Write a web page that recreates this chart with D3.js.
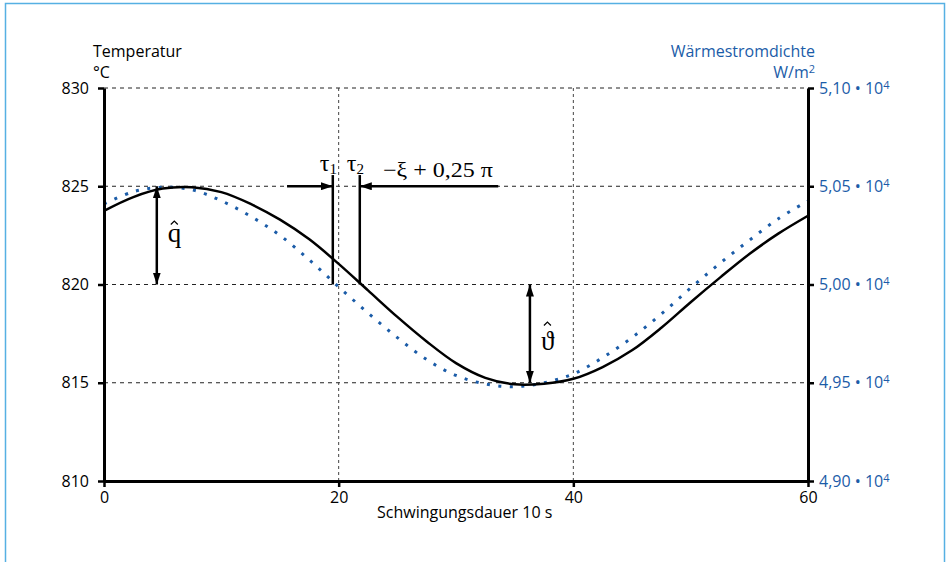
<!DOCTYPE html>
<html>
<head>
<meta charset="utf-8">
<script src="https://cdn.jsdelivr.net/npm/d3@7"></script>
<style>
  body { margin: 0; background: #fff; }
  svg { display: block; }
  text { font-family: 'Open Sans', sans-serif; }
  .math { font-family: 'Liberation Serif', 'DejaVu Serif', serif; }
</style>
</head>
<body>
<svg id="chart"></svg>
<script>
const width = 947
const height = 562

// time axis (units of 10 s)
const times = [0, 2.5, 5, 7.5, 10, 12.5, 15, 17.5, 20, 22.5, 25, 27.5, 30,
               32.5, 35, 37.5, 40, 42.5, 45, 47.5, 50, 52.5, 55, 57.5, 60]

// temperature in °C (black line, left axis)
const temperatur = [823.75, 824.45, 824.88, 824.95, 824.7, 824.1, 823.3, 822.3, 821.05,
                    819.7, 818.35, 817.1, 816.0, 815.25, 814.92, 814.95, 815.2, 815.8,
                    816.65, 817.8, 819.1, 820.35, 821.55, 822.6, 823.5]

// heat flux density in W/m² (blue dotted line, right axis)
const waermestrom = [50410, 50472, 50495, 50482, 50426, 50347, 50250, 50125, 49988,
                     49855, 49730, 49618, 49537, 49494, 49480, 49500, 49545, 49628,
                     49730, 49850, 49982, 50108, 50225, 50336, 50425]

const xTicks = [0, 20, 40, 60]
const leftTicks = [810, 815, 820, 825, 830]
const rightTicks = [49000, 49500, 50000, 50500, 51000]
const rightTickLabels = ['4,90', '4,95', '5,00', '5,05', '5,10']

// annotation positions (data units)
const tau = [19.5, 21.8]
const tauArrows = [15.6, 33.6]
const qHatAt = 4.5
const thetaHatAt = 36.3

const blue = '#1b5ca8'

const svg = d3.select('#chart')
    .attr('width', width)
    .attr('height', height)

let xScale = d3.scaleLinear().domain([0, 60]).range([104, 808])
let yLeft = d3.scaleLinear().domain([810, 830]).range([481, 88])
let yRight = d3.scaleLinear().domain([49000, 51000]).range([481, 88])

// frame
svg.append('rect')
    .attr('x', 5.5)
    .attr('y', 3.5)
    .attr('width', 939)
    .attr('height', 600)
    .attr('fill', 'none')
    .attr('stroke', '#56b0e3')
    .attr('stroke-width', 1.5)

// arrow marker
svg.append('defs').append('marker')
    .attr('id', 'arrow')
    .attr('viewBox', '0 0 12 8')
    .attr('refX', 12)
    .attr('refY', 4)
    .attr('markerWidth', 12)
    .attr('markerHeight', 8)
    .attr('markerUnits', 'userSpaceOnUse')
    .attr('orient', 'auto-start-reverse')
  .append('path')
    .attr('d', 'M0,0 L12,4 L0,8 Z')
    .attr('fill', '#000')

// grid lines
svg.append('g')
  .selectAll('line')
  .data(leftTicks.slice(1))
  .enter()
  .append('line')
    .attr('x1', xScale(0))
    .attr('x2', xScale(60))
    .attr('y1', d => yLeft(d))
    .attr('y2', d => yLeft(d))
    .attr('stroke', '#222')
    .attr('stroke-width', 1)
    .attr('stroke-dasharray', '4,4')

svg.append('g')
  .selectAll('line')
  .data([20, 40])
  .enter()
  .append('line')
    .attr('x1', d => xScale(d))
    .attr('x2', d => xScale(d))
    .attr('y1', yLeft(830))
    .attr('y2', yLeft(810))
    .attr('stroke', '#444')
    .attr('stroke-width', 1)
    .attr('stroke-dasharray', '3,3')

// series
let tempLine = d3.line()
    .x((d, i) => xScale(times[i]))
    .y(d => yLeft(d))
    .curve(d3.curveCatmullRom)

let fluxLine = d3.line()
    .x((d, i) => xScale(times[i]))
    .y(d => yRight(d))
    .curve(d3.curveCatmullRom)

svg.append('path')
    .datum(waermestrom)
    .attr('d', fluxLine)
    .attr('fill', 'none')
    .attr('stroke', blue)
    .attr('stroke-width', 3)
    .attr('stroke-dasharray', '3,8.5')

svg.append('path')
    .datum(temperatur)
    .attr('d', tempLine)
    .attr('fill', 'none')
    .attr('stroke', '#000')
    .attr('stroke-width', 2.5)

// axes
let xAxis = d3.axisBottom(xScale)
    .tickValues(xTicks)
    .tickSize(6)
    .tickSizeOuter(0)
    .tickPadding(5)

let leftAxis = d3.axisLeft(yLeft)
    .tickValues(leftTicks)
    .tickSize(6)
    .tickSizeOuter(0)
    .tickPadding(9)

let rightAxis = d3.axisRight(yRight)
    .tickValues(rightTicks)
    .tickSize(6)
    .tickSizeOuter(0)
    .tickPadding(5)
    .tickFormat((d, i) => rightTickLabels[i])

function styleAxis (g) {
  g.select('.domain').attr('stroke', '#000').attr('stroke-width', 3)
  g.selectAll('.tick line').attr('stroke', '#000').attr('stroke-width', 2.5)
  g.selectAll('.tick text')
      .style('font-family', "'Open Sans', sans-serif")
      .style('font-size', '16px')
}

svg.append('g')
    .attr('transform', `translate(0, ${yLeft(810)})`)
    .call(xAxis)
    .call(styleAxis)
    .selectAll('.tick text').attr('fill', '#000')

svg.append('g')
    .attr('transform', `translate(${xScale(0)}, 0)`)
    .call(leftAxis)
    .call(styleAxis)
    .selectAll('.tick text').attr('fill', '#000')

let rightG = svg.append('g')
    .attr('transform', `translate(${xScale(60)}, 0)`)
    .call(rightAxis)
    .call(styleAxis)

rightG.selectAll('.tick text')
    .attr('fill', blue)
    .each(function (d, i) {
      let t = d3.select(this)
      t.text(rightTickLabels[i] + ' \u2022 10')
      t.append('tspan')
          .attr('dy', '-0.45em')
          .style('font-size', '11px')
          .text('4')
    })

// axis titles
svg.append('text')
    .attr('x', 93)
    .attr('y', 57)
    .style('font-size', '16px')
    .text('Temperatur')

svg.append('text')
    .attr('x', 93)
    .attr('y', 78)
    .style('font-size', '16px')
    .text('°C')

svg.append('text')
    .attr('x', 815)
    .attr('y', 57)
    .attr('text-anchor', 'end')
    .attr('fill', blue)
    .style('font-size', '16px')
    .text('Wärmestromdichte')

let unit = svg.append('text')
    .attr('x', 815)
    .attr('y', 78)
    .attr('text-anchor', 'end')
    .attr('fill', blue)
    .style('font-size', '16px')
    .text('W/m')
unit.append('tspan')
    .attr('dy', '-0.45em')
    .style('font-size', '11px')
    .text('2')

svg.append('text')
    .attr('x', 377)
    .attr('y', 518)
    .style('font-size', '16px')
    .text('Schwingungsdauer 10 s')

// annotations: amplitude arrows
let ann = svg.append('g')
    .attr('stroke', '#000')
    .attr('stroke-width', 2.5)

ann.append('line')
    .attr('x1', xScale(qHatAt))
    .attr('x2', xScale(qHatAt))
    .attr('y1', yLeft(825))
    .attr('y2', yLeft(820))
    .attr('marker-start', 'url(#arrow)')
    .attr('marker-end', 'url(#arrow)')

ann.append('line')
    .attr('x1', xScale(thetaHatAt))
    .attr('x2', xScale(thetaHatAt))
    .attr('y1', yLeft(820))
    .attr('y2', yLeft(815))
    .attr('marker-start', 'url(#arrow)')
    .attr('marker-end', 'url(#arrow)')

// phase shift markers
ann.selectAll('.tau')
  .data(tau)
  .enter()
  .append('line')
    .attr('x1', d => xScale(d))
    .attr('x2', d => xScale(d))
    .attr('y1', yLeft(825.57))
    .attr('y2', yLeft(820))

ann.append('line')
    .attr('x1', xScale(tauArrows[0]))
    .attr('x2', xScale(tau[0]))
    .attr('y1', yLeft(825))
    .attr('y2', yLeft(825))
    .attr('marker-end', 'url(#arrow)')

ann.append('line')
    .attr('x1', xScale(tauArrows[1]))
    .attr('x2', xScale(tau[1]))
    .attr('y1', yLeft(825))
    .attr('y2', yLeft(825))
    .attr('marker-end', 'url(#arrow)')

// math labels with a hat accent drawn as a small chevron
function hatLabel (x, y, glyph, lift) {
  svg.append('text')
      .attr('class', 'math')
      .attr('x', x)
      .attr('y', y)
      .style('font-size', '27px')
      .text(glyph)
  let cx = x + 6.5
  let cy = y - lift
  svg.append('path')
      .attr('d', `M${cx - 3.5},${cy + 3.5} L${cx},${cy} L${cx + 3.5},${cy + 3.5}`)
      .attr('fill', 'none')
      .attr('stroke', '#000')
      .attr('stroke-width', 1.2)
}

hatLabel(xScale(qHatAt) + 11, 242, 'q', 21)
hatLabel(xScale(thetaHatAt) + 11, 350, '\u03D1', 28)

tau.forEach((d, i) => {
  let t = svg.append('text')
      .attr('class', 'math')
      .attr('x', xScale(d) - 13)
      .attr('y', 171)
      .style('font-size', '24px')
      .text('\u03C4')
  t.append('tspan')
      .attr('dy', 3)
      .style('font-size', '15px')
      .text(i + 1)
})

svg.append('text')
    .attr('class', 'math')
    .attr('x', 383)
    .attr('y', 177)
    .attr('textLength', 110)
    .attr('lengthAdjust', 'spacingAndGlyphs')
    .style('font-size', '21px')
    .text('\u2212\u03BE + 0,25 \u03C0')
</script>
</body>
</html>
